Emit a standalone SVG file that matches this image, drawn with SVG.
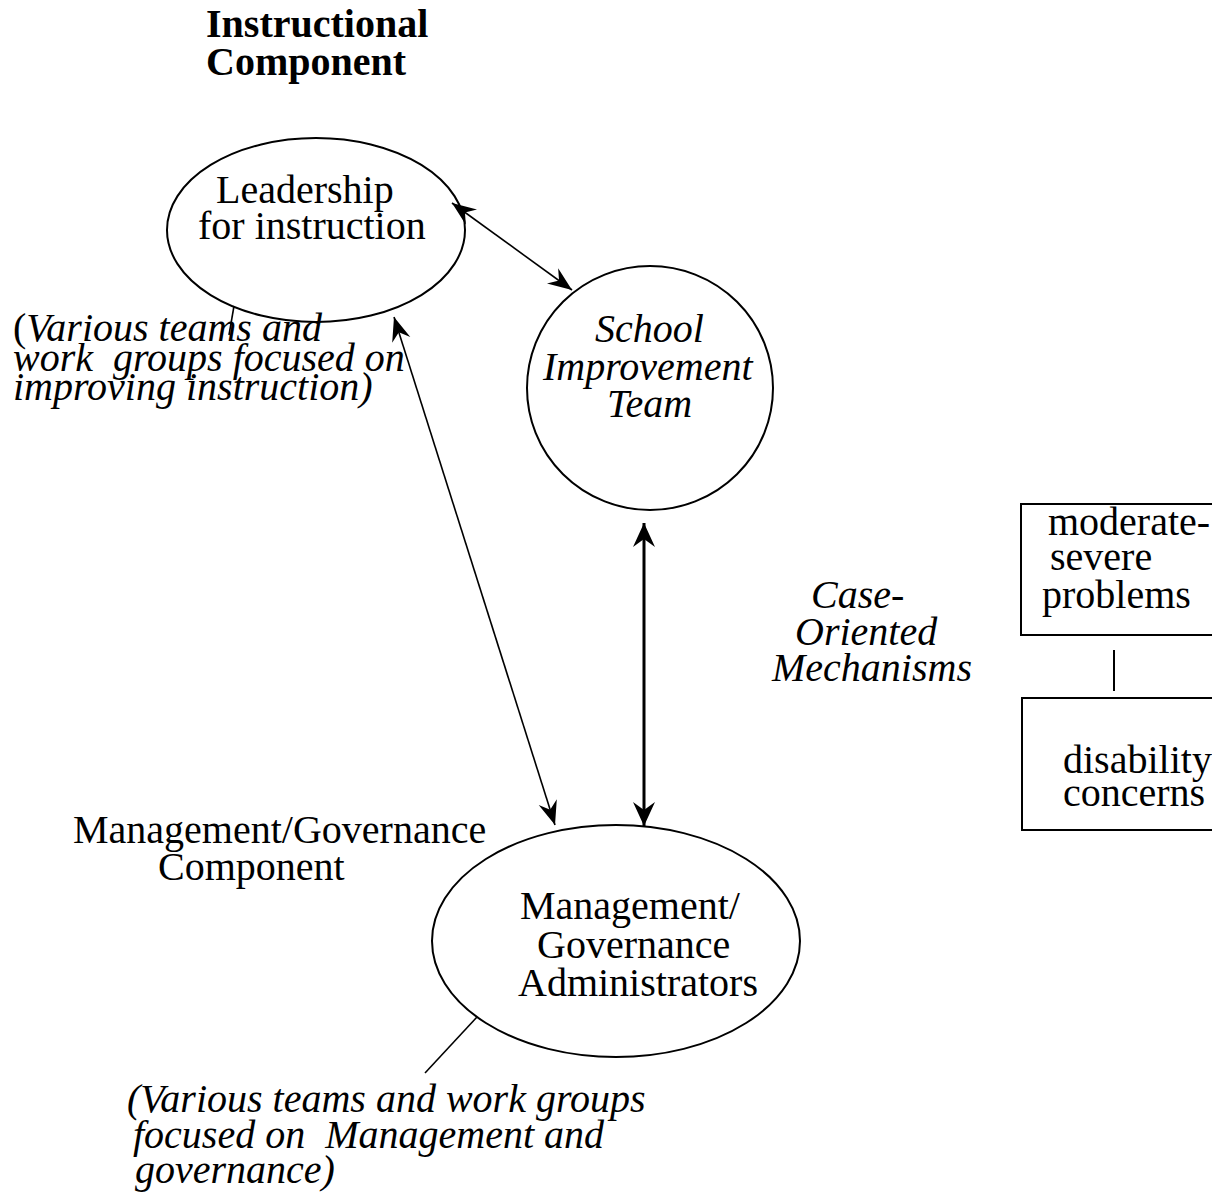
<svg xmlns="http://www.w3.org/2000/svg" width="1212" height="1197" viewBox="0 0 1212 1197">
<style>
text { font-family: "Liberation Serif", "Times New Roman", serif; font-size: 40px; fill: #000; white-space: pre; }
.b { font-weight: bold; }
.i { font-style: italic; }
.shape { fill: none; stroke: #000; stroke-width: 2; }
.thin { fill: none; stroke: #000; stroke-width: 1.6; }
.thick { fill: none; stroke: #000; stroke-width: 3; }
</style>
<defs>
<marker id="ah" viewBox="-26 -11 28 22" refX="0" refY="0" markerWidth="28" markerHeight="22" markerUnits="userSpaceOnUse" orient="auto-start-reverse">
<path d="M0,0 L-24,-9.5 L-16,0 L-24,9.5 Z" fill="#000"/>
</marker>
<marker id="ahb" viewBox="-26 -12 28 24" refX="0" refY="0" markerWidth="28" markerHeight="24" markerUnits="userSpaceOnUse" orient="auto-start-reverse">
<path d="M0,0 L-24,-11 L-16,0 L-24,11 Z" fill="#000"/>
</marker>
</defs>
<rect width="1212" height="1197" fill="#fff"/>

<g id="title">
<text class="b" x="206" y="37">Instructional</text>
<text class="b" x="206" y="75">Component</text>
</g>

<g id="leadership">
<ellipse class="shape" cx="316" cy="230" rx="149" ry="92"/>
<text x="216" y="203">Leadership</text>
<text x="198" y="239">for instruction</text>
</g>

<g id="instruction-teams">
<text class="i" x="13" y="341"><tspan font-style="normal">(</tspan>Various teams and</text>
<text class="i" x="13" y="371">work  groups focused on</text>
<text class="i" x="13" y="400">improving instruction)</text>
</g>

<g id="school-improvement-team">
<ellipse class="shape" cx="650" cy="388" rx="123" ry="122"/>
<text class="i" x="595" y="342">School</text>
<text class="i" x="543" y="380">Improvement</text>
<text class="i" x="607" y="417">Team</text>
</g>

<g id="case-oriented">
<text class="i" x="811" y="608">Case-</text>
<text class="i" x="795" y="645">Oriented</text>
<text class="i" x="772" y="681">Mechanisms</text>
</g>

<g id="moderate-severe">
<rect class="shape" x="1021" y="504" width="220" height="131"/>
<text x="1048" y="535">moderate-</text>
<text x="1050" y="570">severe</text>
<text x="1042" y="608">problems</text>
</g>

<g id="disability">
<rect class="shape" x="1022" y="698" width="220" height="132"/>
<text x="1063" y="773">disability</text>
<text x="1063" y="806">concerns</text>
</g>

<g id="mg-component">
<text x="73" y="843">Management/Governance</text>
<text x="158" y="880">Component</text>
</g>

<g id="mg-administrators">
<ellipse class="shape" cx="616" cy="941" rx="184" ry="116"/>
<text x="520" y="919">Management/</text>
<text x="537" y="958">Governance</text>
<text x="518" y="996">Administrators</text>
</g>

<g id="mg-teams">
<text class="i" x="127" y="1112">(Various teams and work groups</text>
<text class="i" x="133" y="1148">focused on  Management and</text>
<text class="i" x="135" y="1183">governance)</text>
</g>

<g id="connectors">
<line class="thin" x1="452" y1="203" x2="572" y2="290" marker-start="url(#ah)" marker-end="url(#ah)"/>
<line class="thin" x1="394" y1="317" x2="555" y2="825" marker-start="url(#ah)" marker-end="url(#ah)"/>
<line class="thick" x1="644" y1="523" x2="644" y2="826" marker-start="url(#ahb)" marker-end="url(#ahb)"/>
<line class="thin" x1="234" y1="306" x2="229" y2="335"/>
<line class="thin" x1="477" y1="1017" x2="425" y2="1073"/>
<line class="shape" x1="1114" y1="650" x2="1114" y2="691"/>
</g>
</svg>
